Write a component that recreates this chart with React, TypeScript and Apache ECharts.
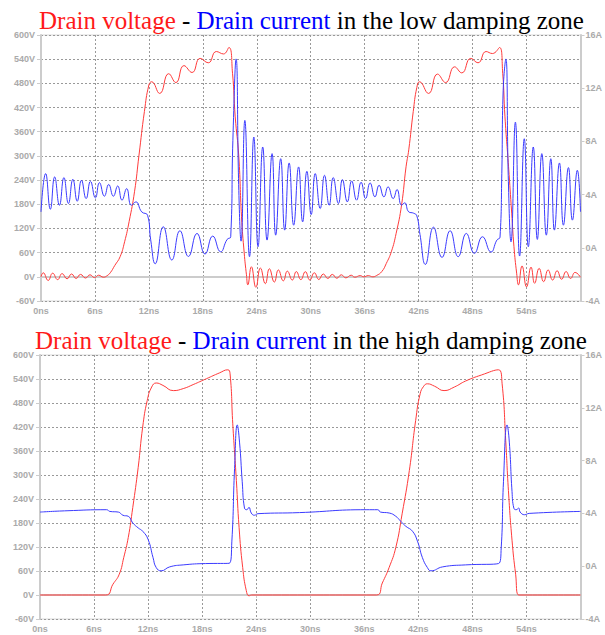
import React, { useEffect, useRef } from "react";
import * as echarts from "echarts";

// Panel 1: low damping zone — [time ns, value]
const lowVoltage: number[][] = [
  [0, 0], [0.25, 10], [0.8, -9], [1.3, 9], [1.85, -7], [2.35, 8], [2.9, -5], [3.4, 7], [3.9, -4], [4.4, 6],
  [4.95, -3], [5.45, 5], [5.95, -2], [6.4, 4], [6.95, -1], [7.3, 2], [7.7, 10], [8.2, 28], [8.8, 50], [9.3, 87],
  [9.8, 137], [10.4, 211], [10.9, 302], [11.5, 410], [12.0, 476], [12.3, 484], [13.2, 455], [14.2, 504], [15.0, 482],
  [15.9, 524], [16.8, 507], [17.7, 542], [18.6, 531], [19.5, 559], [20.3, 553], [20.9, 569], [21.3, 505], [21.6, 397],
  [22.0, 298], [22.3, 149], [22.6, 59], [22.85, 5], [23.0, -20], [23.4, 25], [23.9, -26], [24.4, 22], [24.95, -17],
  [25.4, 20], [25.95, -13], [26.4, 17], [26.95, -10], [27.4, 14], [27.95, -8], [28.4, 13], [28.9, -7], [29.4, 12.7],
  [29.9, -8], [30.4, 10], [30.9, -6.6], [31.4, 7], [31.9, -4], [32.4, 6], [32.9, -3.5], [33.4, 5], [33.9, -2.6],
  [34.5, 4], [34.9, -1], [35.5, 3], [35.9, 0], [36.4, 3], [36.9, 0], [37.3, 3], [37.9, 13], [38.4, 33], [38.96, 62],
  [39.5, 108], [40.1, 178], [40.6, 273], [40.9, 315], [41.4, 410], [41.8, 470], [42.1, 484], [43.1, 455], [44.1, 503],
  [45.0, 482], [46.0, 521], [46.8, 506], [47.8, 542], [48.6, 531], [49.5, 559], [50.2, 554], [51.0, 569], [51.35, 505],
  [51.6, 397], [52.0, 273], [52.35, 158], [52.6, 75], [52.9, 9], [53.1, -20], [53.5, 27], [54.0, -25], [54.5, 24],
  [54.9, -16], [55.4, 21], [55.9, -12], [56.4, 17], [56.9, -8], [57.4, 15], [57.9, -6], [58.4, 13], [58.9, -4],
  [59.4, 11], [60, -1],
];

const lowCurrent: number[][] = [
  [0, 2.7], [0.52, 5.58], [1.04, 2.9], [1.52, 5.33], [2.05, 3.2], [2.55, 5.28], [3.05, 3.33], [3.55, 5.15], [4.03, 3.5],
  [4.5, 5.08], [5.02, 3.7], [5.5, 5.0], [6.05, 3.75], [6.5, 4.9], [7.05, 3.88], [7.53, 4.76], [8.05, 3.88], [8.53, 4.65],
  [9.01, 3.58], [9.53, 4.45], [10.05, 3.2], [10.55, 3.45], [11.2, 2.7], [11.85, 2.45], [12.2, 0.6], [12.7, -1.2],
  [13.6, 1.58], [14.55, -0.92], [15.45, 1.28], [16.4, -0.65], [17.35, 1.08], [18.24, -0.47], [19.1, 0.88], [19.98, -0.3],
  [20.7, 0.63], [21.1, 0.83], [21.34, 8.08], [21.7, 14.2], [22.0, 4.3], [22.25, 0.5], [22.67, 9.58], [23.19, -0.67],
  [23.67, 8.33], [24.14, 0.08], [24.66, 7.58], [25.14, 0.58], [25.7, 7.08], [26.1, 0.95], [26.66, 6.7], [27.1, 1.33],
  [27.6, 6.38], [28.1, 1.7], [28.65, 6.08], [29.1, 1.95], [29.57, 5.75], [30.05, 2.5], [30.5, 5.58], [31.05, 2.95],
  [31.53, 5.45], [32.05, 3.2], [32.5, 5.28], [33.08, 3.33], [33.52, 5.13], [34.07, 3.45], [34.55, 5.03], [35.1, 3.58],
  [35.6, 4.93], [36.1, 3.7], [36.6, 4.88], [37.14, 3.83], [37.6, 4.7], [38.14, 3.83], [38.6, 4.58], [39.17, 3.7],
  [39.6, 4.38], [40.1, 3.2], [40.45, 3.38], [40.9, 2.7], [41.45, 2.6], [41.8, 2.4], [42.15, 1.0], [42.75, -1.25],
  [43.65, 1.55], [44.6, -0.72], [45.5, 1.28], [46.4, -0.67], [47.3, 1.08], [48.2, -0.42], [49.1, 0.83], [50.05, -0.32],
  [50.7, 0.58], [51.05, 0.8], [51.25, 5.6], [51.4, 11.8], [51.7, 14.2], [51.98, 5], [52.27, 0.45], [52.76, 9.45],
  [53.23, -0.62], [53.75, 8.2], [54.2, 0.08], [54.75, 7.58], [55.2, 0.63], [55.7, 7.08], [56.2, 0.95], [56.7, 6.7],
  [57.1, 1.33], [57.66, 6.38], [58.1, 1.7], [58.66, 6.03], [59.1, 2.08], [59.65, 5.83], [60, 2.7],
];

// Panel 2: high damping zone
const highVoltage: number[][] = [
  [0, 0], [7.3, 0], [8.1, 27], [8.8, 52], [9.3, 94], [9.8, 144], [10.3, 219], [10.9, 319], [11.4, 420], [11.9, 486],
  [12.4, 520], [12.9, 530], [13.65, 524], [14.8, 511], [15.9, 516], [17.0, 526], [18.5, 541], [19.9, 555], [20.85, 563],
  [21.1, 553], [21.4, 428], [21.8, 286], [22.1, 169], [22.5, 69], [22.9, 11], [23.2, -2], [23.5, 0], [37.35, 0],
  [38.0, 30], [38.76, 69], [39.5, 119], [40.2, 203], [41.0, 311], [41.7, 436], [42.2, 503], [42.6, 522], [43.0, 528],
  [43.8, 522], [44.85, 511], [46.0, 520], [47.25, 535], [49.0, 550], [50.9, 563], [51.3, 528], [51.7, 386], [52.0, 261],
  [52.4, 137], [52.8, 52], [53.15, 0], [60, 0],
];

const highCurrent: number[][] = [
  [0, 4.1], [3, 4.2], [7.4, 4.28], [7.75, 4.15], [8.7, 4.1], [9.2, 3.86], [9.8, 3.78], [10.3, 3.28], [10.9, 2.9],
  [11.4, 2.65], [12.0, 2.03], [12.55, 0.65], [12.9, -0.1], [13.45, -0.35], [14.4, -0.05], [15.9, 0.1], [18.4, 0.2],
  [21.0, 0.22], [21.3, 1.9], [21.6, 7.4], [21.9, 10.7], [22.15, 9.4], [22.45, 6.4], [22.7, 4.4], [22.95, 4.28],
  [23.2, 4.46], [23.45, 4.03], [23.8, 3.86], [24.2, 3.98], [28.8, 4.06], [36.2, 4.28], [37.5, 4.28], [37.8, 4.1],
  [38.76, 4.03], [39.5, 3.78], [40.05, 3.4], [40.6, 3.03], [41.35, 2.65], [41.9, 1.9], [42.45, 0.65], [43.0, -0.1],
  [43.4, -0.35], [44.7, -0.05], [47.25, 0.1], [50.9, 0.2], [51.2, 1.4], [51.45, 6.4], [51.85, 10.7], [52.1, 9.4],
  [52.4, 5.66], [52.6, 4.4], [52.85, 4.28], [53.15, 4.4], [53.3, 4.1], [53.8, 3.9], [54.3, 4.0], [60, 4.15],
];

const titleParts = ["Drain voltage", " - ", "Drain current"];
const titleEnds = [" in the low damping zone", " in the high damping zone"];

const RED = "#ff3b3b";
const BLUE = "#3b3bff";
const LABEL = "#aaaaaa";
const AXIS = "#cccccc";

export default function App() {
  const ref = useRef<HTMLDivElement>(null);
  useEffect(() => {
    if (!ref.current) return;
    const chart = echarts.init(ref.current, undefined, { renderer: "svg" });
    const serif = "'Liberation Serif', 'Times New Roman', serif";
    const sans = "'Liberation Sans', Arial, sans-serif";
    const base = { fontFamily: serif, fontSize: 25, fontWeight: "normal" as const };
    const rich = {
      r: { ...base, color: "#ff1a1a" },
      b: { ...base, color: "#0000ff" },
      k: { ...base, color: "#000000" },
    };
    const titleText = (end: string) =>
      `{r|${titleParts[0]}}{k|${titleParts[1]}}{b|${titleParts[2]}}{k|${end}}`;

    const grids = [
      { left: 41, top: 35, width: 543, height: 266 },
      { left: 40, top: 355, width: 543, height: 264 },
    ];

    const labelStyle = {
      color: LABEL,
      fontSize: 9,
      fontWeight: "bold" as const,
      fontFamily: sans,
    };

    const xAxes = grids.map((_, i) => ({
      type: "value",
      gridIndex: i,
      min: 0,
      max: 60,
      interval: 6,
      axisLine: { show: true, lineStyle: { color: AXIS, width: 2 } },
      axisTick: { show: true, length: 3, lineStyle: { color: AXIS } },
      axisLabel: { ...labelStyle, formatter: "{value}ns", margin: 5, showMaxLabel: false },
      splitLine: { show: true, lineStyle: { color: "#999", type: [2, 2], width: 1 } },
    }));

    const yAxes: any[] = [];
    grids.forEach((_, i) => {
      yAxes.push({
        type: "value",
        gridIndex: i,
        position: "left",
        min: -60,
        max: 600,
        interval: 60,
        axisLine: { show: true, lineStyle: { color: AXIS, width: 2 } },
        axisTick: { show: true, length: 4, lineStyle: { color: AXIS } },
        axisLabel: { ...labelStyle, formatter: "{value}V", margin: 6 },
        splitLine: { show: true, lineStyle: { color: "#999", type: [2, 2], width: 1 } },
      });
      yAxes.push({
        type: "value",
        gridIndex: i,
        position: "right",
        min: -4,
        max: 16,
        interval: 4,
        axisLine: { show: true, lineStyle: { color: AXIS, width: 2 } },
        axisTick: { show: true, length: 4, lineStyle: { color: AXIS } },
        axisLabel: { ...labelStyle, formatter: "{value}A", margin: 5 },
        splitLine: { show: false },
      });
    });

    const line = (data: number[][], color: string, xi: number, yi: number, name: string) => ({
      type: "line",
      name,
      xAxisIndex: xi,
      yAxisIndex: yi,
      data,
      smooth: 0.5,
      showSymbol: false,
      symbol: "none",
      lineStyle: { color, width: 1 },
      z: 3,
    });

    chart.setOption({
      animation: false,
      backgroundColor: "#ffffff",
      title: [
        { text: titleText(titleEnds[0]), left: 39, top: 8, padding: 0, textStyle: { ...base, rich } },
        { text: titleText(titleEnds[1]), left: 35, top: 328, padding: 0, textStyle: { ...base, rich } },
      ],
      grid: grids.map((g) => ({ ...g, show: true, borderColor: "#d8d8d8", borderWidth: 1, backgroundColor: "transparent" })),
      xAxis: xAxes,
      yAxis: yAxes,
      series: [
        line(lowVoltage, RED, 0, 0, "Drain voltage (low damping)"),
        line(lowCurrent, BLUE, 0, 1, "Drain current (low damping)"),
        line(highVoltage, RED, 1, 2, "Drain voltage (high damping)"),
        line(highCurrent, BLUE, 1, 3, "Drain current (high damping)"),
      ],
    });
    return () => chart.dispose();
  }, []);
  return (
    <div
      ref={ref}
      style={{ position: "absolute", left: 0, top: 0, width: 605, height: 635, background: "#fff" }}
    />
  );
}
